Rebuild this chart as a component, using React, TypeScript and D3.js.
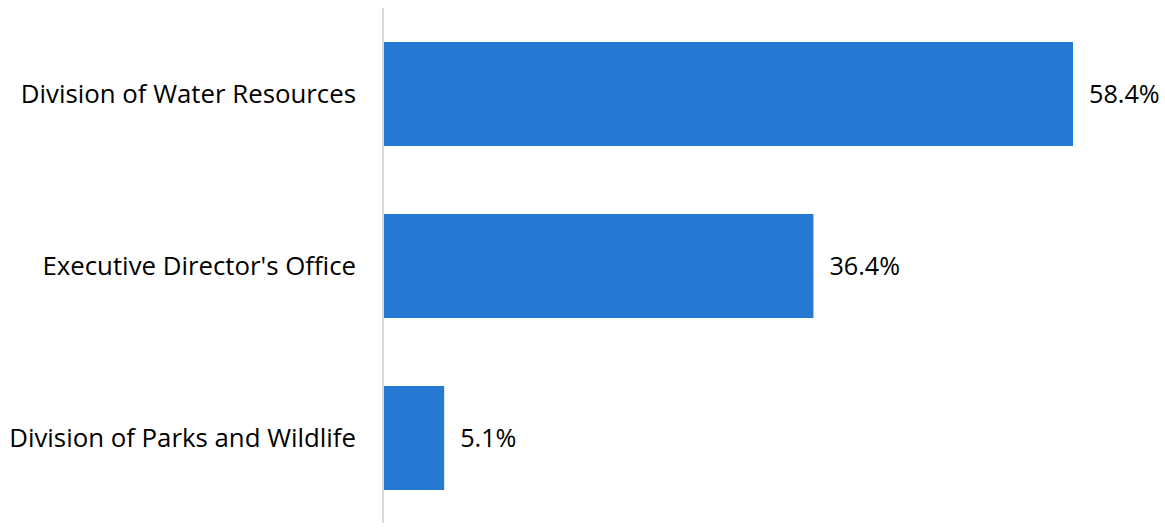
import React from "react";
import * as d3 from "d3";

const categories = ["Division of Water Resources", "Executive Director's Office", "Division of Parks and Wildlife"];
const values = [58.4, 36.4, 5.1];

export default function App() {
  const width = 1165;
  const height = 529;
  const axisX = 384;
  const x = d3.scaleLinear().domain([0, 58.4]).range([axisX, 1073]);
  const yb = d3.scaleBand<string>().domain(categories).range([8, 524]).paddingInner(0.3953).paddingOuter(0.1977);
  const font = "'Open Sans', 'Liberation Sans', sans-serif";
  return (
    <svg width={width} height={height} style={{ position: "absolute", left: 0, top: 0, background: "#fff" }}>
      <line x1={axisX - 1} x2={axisX - 1} y1={8} y2={523} stroke="#d9d9d9" strokeWidth={2} />
      {categories.map((c, i) => {
        const by = yb(c)!;
        const bh = yb.bandwidth();
        return (
          <g key={c}>
            <rect x={axisX} y={by} width={x(values[i]) - axisX} height={bh} fill="#2679d2" />
            <text x={356} y={by + bh / 2} dy="0.35em" textAnchor="end" fontFamily={font} fontSize={25.8} fill="#000">
              {c}
            </text>
            <text x={x(values[i]) + 16} y={by + bh / 2} dy="0.35em" textAnchor="start" fontFamily={font} fontSize={25.2} fill="#000">
              {values[i].toFixed(1) + "%"}
            </text>
          </g>
        );
      })}
    </svg>
  );
}
